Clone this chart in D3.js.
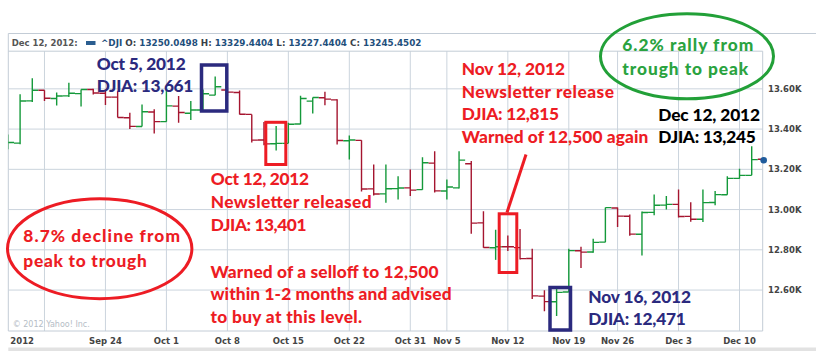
<!DOCTYPE html>
<html><head><meta charset="utf-8">
<script src="https://cdn.jsdelivr.net/npm/d3@7"></script>
<style>body{margin:0;background:#fff}svg{display:block}</style>
</head><body><svg id="c" width="816" height="351"></svg>
<script>
// ---- data (DJIA daily OHLC) ----
const dates = ["Sep 12","Sep 13","Sep 14","Sep 17","Sep 18","Sep 19","Sep 20","Sep 21","Sep 24","Sep 25","Sep 26","Sep 27","Sep 28",
"Oct 1","Oct 2","Oct 3","Oct 4","Oct 5","Oct 8","Oct 9","Oct 10","Oct 11","Oct 12","Oct 15","Oct 16","Oct 17","Oct 18","Oct 19","Oct 22","Oct 23","Oct 24","Oct 25","Oct 26","Oct 31",
"Nov 1","Nov 2","Nov 5","Nov 6","Nov 7","Nov 8","Nov 9","Nov 12","Nov 13","Nov 14","Nov 15","Nov 16","Nov 19","Nov 20","Nov 21","Nov 23","Nov 26","Nov 27","Nov 28","Nov 29","Nov 30",
"Dec 3","Dec 4","Dec 5","Dec 6","Dec 7","Dec 10","Dec 11","Dec 12"];
const opens = [13321,13330,13540,13593,13552,13565,13576,13597,13578,13559,13456,13413,13485,
13437,13514,13479,13495,13569,13594,13582,13473,13346,13327,13329,13425,13539,13556,13545,13342,13344,13103,13078,13104,13108,
13099,13231,13092,13108,13228,12934,12810,12815.4,12811,12757,12570,12542,12590,12795,12789,12838,13008,12967,12877,12986,13022,
13026,12966,12952,13035,13074,13155,13170,13250.05];
const highs = [13373,13573,13653,13593,13582,13630,13597,13600,13597,13590,13481,13522,13498,
13597,13564,13539,13597,13661.87,13610,13592,13473,13435,13415,13431,13566,13557,13586,13548,13368,13344,13224,13224,13166,13199,
13260,13290,13150,13290,13241,12992,12900,12871,12904,12805,12599,12607,12805,12815,12855,13010,13010,12975,12990,13075,13067,
13100,13037,13100,13092,13166,13203,13315,13329.44];
const lows = [13300,13325,13534,13540,13517,13560,13512,13572,13520,13457,13400,13413,13378,
13437,13432,13445,13490,13568,13564,13473,13333,13320,13294,13329,13424,13478,13518,13324,13249,13090,13070,13034,13050,13067,
13098,13085,13050,13105,12880,12810,12750,12794,12752,12555,12495,12471.49,12590,12710,12785,12838,12913,12870,12772,12972,13000,
12960,12940,12938,13022,13074,13153,13170,13227.44];
const closes = [13333.35,13539.86,13593.37,13553.10,13564.64,13577.96,13596.93,13579.47,13558.92,13457.55,13413.51,13485.97,13437.13,
13515.11,13482.36,13494.61,13575.36,13610.15,13583.65,13473.53,13344.97,13326.39,13328.85,13424.23,13551.78,13557.00,13548.94,13343.51,13345.89,13102.53,13077.34,13103.68,13107.21,13096.46,
13232.62,13093.16,13112.44,13245.68,12932.73,12811.32,12815.39,12815.08,12756.18,12570.95,12542.38,12588.31,12795.96,12788.51,12836.89,13009.68,12967.37,12878.13,12985.11,13021.82,13025.58,
12965.60,12951.78,13034.49,13074.04,13155.13,13169.88,13248.44,13245.45];
const weekStarts = ["Sep 17","Sep 24","Oct 1","Oct 8","Oct 15","Oct 22","Oct 31","Nov 5","Nov 12","Nov 19","Nov 26","Dec 3","Dec 10"];
const weekLabels = ["Sep 24","Oct 1","Oct 8","Oct 15","Oct 22","Oct 31","Nov 5","Nov 12","Nov 19","Nov 26","Dec 3","Dec 10"];
const yTicks = [12600,12800,13000,13200,13400,13600];
const yearLabel = "2012";
const header = {date:"Dec 12, 2012:", sym:"^DJI", o:"13250.0498", h:"13329.4404", l:"13227.4404", c:"13245.4502"};

// ---- layout ----
const L = 8.3, R = 762.7, T = 51.2, B = 331;
const svg = d3.select("#c");
const x = d3.scalePoint().domain(dates).range([7.9, 763.9]);
const y = d3.scaleLinear().domain([12400, 13800]).range([330.3, 48.6]);
const step = x.step();
const gridC = "#cbd4dd", frameC = "#c3ccd6";
const up = "#14993a", down = "#a5152f";

// frame
svg.append("line").attr("x1",L).attr("x2",816).attr("y1",33.5).attr("y2",33.5).attr("stroke",frameC);
svg.append("line").attr("x1",L).attr("x2",L).attr("y1",33.5).attr("y2",B).attr("stroke",frameC);
svg.append("rect").attr("x",L).attr("y",347.5).attr("width",816-L).attr("height",4).attr("fill","#e2e2e2");

// grid
svg.append("g").selectAll("line").data(yTicks).join("line")
  .attr("x1",L).attr("x2",R).attr("y1",d=>y(d)).attr("y2",d=>y(d)).attr("stroke",gridC);
svg.append("g").selectAll("line").data(weekStarts).join("line")
  .attr("x1",d=>x(d)).attr("x2",d=>x(d)).attr("y1",T).attr("y2",B).attr("stroke",gridC);
svg.append("line").attr("x1",L).attr("x2",R).attr("y1",T).attr("y2",T).attr("stroke",frameC);
svg.append("line").attr("x1",R).attr("x2",R).attr("y1",T).attr("y2",B).attr("stroke",frameC);
svg.append("line").attr("x1",L).attr("x2",R).attr("y1",B).attr("y2",B).attr("stroke",frameC);

// header
svg.append("text").attr("x",11.7).attr("y",45.6)
  .attr("font-family","DejaVu Sans").attr("font-weight","bold").attr("font-size",8.5).attr("fill","#555").text(header.date);
svg.append("rect").attr("x",86).attr("y",41).attr("width",9.5).attr("height",4).attr("fill","#2b5e90");
const hv = svg.append("text").attr("x",101).attr("y",45.6)
  .attr("font-family","DejaVu Sans").attr("font-weight","bold").attr("font-size",8.8).attr("fill","#1f4f7c");
[[header.sym+" ","#1f4f7c"],["O: ","#3a3f48"],[header.o+" ","#1f4f7c"],["H: ","#3a3f48"],[header.h+" ","#1f4f7c"],
 ["L: ","#3a3f48"],[header.l+" ","#1f4f7c"],["C: ","#3a3f48"],[header.c,"#1f4f7c"]]
 .forEach(([t,c])=>hv.append("tspan").attr("fill",c).text(t));

// axes labels
svg.append("g").selectAll("text").data(weekLabels).join("text")
  .attr("x",d=>x(d)).attr("y",344).attr("text-anchor","middle")
  .attr("font-family","DejaVu Sans").attr("font-weight","bold").attr("font-size",8.5).attr("fill","#444").text(d=>d);
svg.append("text").attr("x",10.3).attr("y",344).attr("font-family","DejaVu Sans").attr("font-weight","bold")
  .attr("font-size",8.5).attr("fill","#444").text(yearLabel);
svg.append("g").selectAll("text").data(yTicks).join("text")
  .attr("x",768).attr("y",d=>y(d)+3).attr("font-family","DejaVu Sans").attr("font-weight","bold")
  .attr("font-size",8.5).attr("fill","#444").text(d=>(d/1000).toFixed(2)+"K");
svg.append("text").attr("x",12.7).attr("y",326.5).attr("font-family","DejaVu Sans").attr("font-size",8)
  .attr("fill","#b5bdc6").text("\u00a9 2012 Yahoo! Inc.");

// bars
svg.append("clipPath").attr("id","clip").append("rect").attr("x",L).attr("y",T).attr("width",R-L).attr("height",B-T);
const bars = svg.append("g").attr("clip-path","url(#clip)").selectAll("g").data(dates).join("g")
  .attr("stroke",(d,i)=>closes[i]>=opens[i]?up:down).attr("stroke-width",1.4);
bars.append("line").attr("x1",d=>x(d)).attr("x2",d=>x(d)).attr("y1",(d,i)=>y(highs[i])).attr("y2",(d,i)=>y(lows[i]));
bars.append("line").attr("x1",d=>x(d)-step/2).attr("x2",d=>x(d)).attr("y1",(d,i)=>y(opens[i])).attr("y2",(d,i)=>y(opens[i]));
bars.append("line").attr("x1",d=>x(d)).attr("x2",d=>x(d)+step/2).attr("y1",(d,i)=>y(closes[i])).attr("y2",(d,i)=>y(closes[i]));
const last = dates.length-1;
svg.append("circle").attr("cx",R+1).attr("cy",y(closes[last])).attr("r",3.3).attr("fill","#1f5c9c");

// ---- annotations ----
const navy = "#2b2a7e", red = "#ed1c24", green = "#2aa33f";
function block(lines, widths, x0, y0, lh, color){
  lines.forEach((s,k)=>svg.append("text").attr("x",x0).attr("y",y0+k*lh)
    .attr("font-family","Lato").attr("font-weight",900).attr("font-size",17.3).attr("fill",color)
    .attr("textLength",widths[k]).attr("lengthAdjust","spacing").text(s));
}
function box(x0,y0,x1,y1,color,w){
  svg.append("rect").attr("x",x0).attr("y",y0).attr("width",x1-x0).attr("height",y1-y0)
    .attr("fill","none").attr("stroke",color).attr("stroke-width",w);
}
box(201.5,65,226.8,111,navy,3.5);
box(265.8,122.3,285.8,164.5,red,3);
box(499.2,213.8,516.8,272.5,red,3);
box(550,287.5,570.5,330,navy,3.5);
svg.append("line").attr("x1",507).attr("y1",212.5).attr("x2",526).attr("y2",154.5).attr("stroke",red).attr("stroke-width",3);
svg.append("ellipse").attr("cx",99.7).attr("cy",248.7).attr("rx",92.2).attr("ry",50).attr("fill","none").attr("stroke",red).attr("stroke-width",3);
svg.append("ellipse").attr("cx",687).attr("cy",56.3).attr("rx",86.5).attr("ry",42.5).attr("fill","none").attr("stroke","#22a038").attr("stroke-width",3);

block(["Oct 5, 2012","DJIA: 13,661"],[89,96.6],96.7,70,21.7,navy);
block(["Oct 12, 2012","Newsletter released","DJIA: 13,401"],[98.3,160.7,95.7],210.8,185.3,22.7,red);
block(["Warned of a selloff to 12,500","within 1-2 months and advised","to buy at this level."],[228,241,151.7],210.5,277.5,22.9,red);
block(["Nov 12, 2012","Newsletter release","DJIA: 12,815","Warned of 12,500 again"],[103.3,152.3,97.3,186.6],461.7,75,22.7,red);
block(["6.2% rally from","trough to peak"],[131,126],622.3,50.7,24.3,green);
block(["Dec 12, 2012","DJIA: 13,245"],[101.7,97.4],658.3,121,21.5,"#000");
block(["8.7% decline from","peak to trough"],[156.7,123.4],23.3,242.3,25,red);
block(["Nov 16, 2012","DJIA: 12,471"],[102.7,97.4],588.3,303.3,21.7,navy);
</script></body></html>
